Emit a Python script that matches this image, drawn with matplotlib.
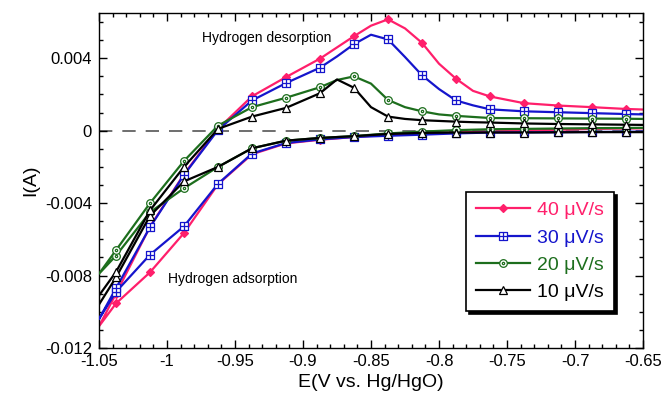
import numpy as np
import matplotlib.pyplot as plt
from matplotlib.path import Path
from matplotlib.ticker import MultipleLocator

plt.rcParams['font.family'] = ['Liberation Sans', 'DejaVu Sans']

# anodic sweep (upper branch), E in V
E_up = [-1.05, -1.0375, -1.0125, -0.9875, -0.9625, -0.9375, -0.9125, -0.8875, -0.875,
        -0.8625, -0.85, -0.8375, -0.825, -0.8125, -0.8, -0.7875, -0.775, -0.7625,
        -0.7375, -0.7125, -0.6875, -0.6625, -0.65]
I_up_40 = [-0.0108, -0.0090, -0.0053, -0.0024, 0.0001, 0.0019, 0.00296, 0.00398, 0.0046,
           0.00522, 0.0058, 0.00615, 0.00565, 0.00485, 0.0037, 0.00287, 0.0022, 0.00189,
           0.00152, 0.00139, 0.0013, 0.0012, 0.00117]
I_up_30 = [-0.0104, -0.0087, -0.00533, -0.00244, 0.00004, 0.00167, 0.00263, 0.00348, 0.0041,
           0.00478, 0.0053, 0.00504, 0.00407, 0.00306, 0.0023, 0.00167, 0.0014, 0.00118,
           0.00107, 0.00102, 0.00097, 0.00092, 0.0009]
I_up_20 = [-0.0079, -0.0066, -0.0040, -0.00167, 0.00028, 0.0013, 0.00182, 0.0024, 0.0028,
           0.0030, 0.0026, 0.0017, 0.0013, 0.00107, 0.0009, 0.00082, 0.00076, 0.0007,
           0.00069, 0.00068, 0.00067, 0.00066, 0.00065]
I_up_10 = [-0.0091, -0.0078, -0.0044, -0.0020, 0.0001, 0.00078, 0.00126, 0.00207, 0.00283,
           0.00237, 0.0013, 0.00078, 0.00065, 0.00058, 0.00054, 0.0005, 0.00047, 0.00045,
           0.0004, 0.00037, 0.00035, 0.00033, 0.00032]

# cathodic sweep (lower branch)
E_dn = [-1.05, -1.0375, -1.0125, -0.9875, -0.9625, -0.9375, -0.9125, -0.8875, -0.8625,
        -0.8375, -0.8125, -0.7875, -0.7625, -0.7375, -0.7125, -0.6875, -0.6625, -0.65]
I_dn_40 = [-0.0108, -0.00954, -0.00782, -0.00565, -0.00296, -0.0013, -0.0007, -0.0005,
           -0.00035, -0.00022, -0.00015, -0.0001, -0.00005, 0.0, 0.00005, 0.0001, 0.00012, 0.00013]
I_dn_30 = [-0.0104, -0.0089, -0.00685, -0.00528, -0.00293, -0.00126, -0.00068, -0.00048,
           -0.00035, -0.00028, -0.00022, -0.00015, -0.0001, -0.00009, -0.00008, -0.00007,
           -0.00006, -0.00005]
I_dn_20 = [-0.0079, -0.0069, -0.0045, -0.00318, -0.0020, -0.00097, -0.00055, -0.0004, -0.0003,
           -0.00015, -0.00005, 0.00003, 0.00008, 0.0001, 0.00012, 0.00014, 0.00015, 0.00016]
I_dn_10 = [-0.0096, -0.0081, -0.0047, -0.0028, -0.0020, -0.00097, -0.00055, -0.0004, -0.0003,
           -0.00018, -0.00012, -0.0001, -0.0001, -0.0001, -0.00009, -0.00008, -0.00008, -0.00008]

labels = ['40 μV/s', '30 μV/s', '20 μV/s', '10 μV/s']
colors = ['#ff1f6b', '#1515cc', '#1d6e1d', '#000000']

sq_plus = Path([(-1, -1), (1, -1), (1, 1), (-1, 1), (-1, -1), (0, -1), (0, 1), (-1, 0), (1, 0)],
               [Path.MOVETO, Path.LINETO, Path.LINETO, Path.LINETO, Path.CLOSEPOLY,
                Path.MOVETO, Path.LINETO, Path.MOVETO, Path.LINETO])
circ = Path.unit_circle()
circ_dot = Path.make_compound_path(circ, Path(circ.vertices * 0.3, circ.codes))
markers = ['D', sq_plus, circ_dot, '^']
msizes = [4, 6, 5.5, 5.5]
mfcs = [None, 'white', 'white', 'white']

fig = plt.figure(figsize=(6.66, 4.05), dpi=100)
ax = fig.add_axes([99 / 666, 57 / 405, 544 / 666, 335 / 405])

ax.axhline(0, color='#555555', lw=1.2, dashes=(8, 6), zorder=1)

ups = [I_up_40, I_up_30, I_up_20, I_up_10]
dns = [I_dn_40, I_dn_30, I_dn_20, I_dn_10]
for i in range(4):
    E = np.array(E_dn[::-1] + E_up)
    cur = np.array(dns[i][::-1] + ups[i])
    idx = [k for k, e in enumerate(E) if round(e * 10000) % 250 == 125]
    kw = dict(mfc=mfcs[i]) if mfcs[i] else {}
    ax.plot(E, cur, color=colors[i], lw=1.6, marker=markers[i], ms=msizes[i],
            mew=0.9, markevery=idx, label=labels[i], zorder=2 + i, **kw)

ax.set_xlim(-1.05, -0.65)
ax.set_ylim(-0.012, 0.0065)
ax.set_xticks([-1.05, -1.0, -0.95, -0.9, -0.85, -0.8, -0.75, -0.7, -0.65])
ax.set_xticklabels(['-1.05', '-1', '-0.95', '-0.9', '-0.85', '-0.8', '-0.75', '-0.7', '-0.65'])
ax.xaxis.set_minor_locator(MultipleLocator(0.01))
ax.set_yticks([-0.012, -0.008, -0.004, 0, 0.004])
ax.set_yticklabels(['-0.012', '-0.008', '-0.004', '0', '0.004'])
ax.yaxis.set_minor_locator(MultipleLocator(0.001))
ax.tick_params(which='both', direction='in', top=True, right=True, labelsize=12, width=1)
ax.tick_params(which='major', length=6)
ax.tick_params(which='minor', length=3)
ax.tick_params(axis='y', pad=5)
ax.tick_params(axis='x', pad=4)
for s in ax.spines.values():
    s.set_linewidth(1)

ax.set_xlabel('E(V vs. Hg/HgO)', fontsize=14, labelpad=4)
ax.set_ylabel('I(A)', fontsize=14, labelpad=4)

ax.text(-0.927, 0.0051, 'Hydrogen desorption', fontsize=10, ha='center', va='center')
ax.text(-0.9515, -0.0082, 'Hydrogen adsorption', fontsize=10, ha='center', va='center')

leg = ax.legend(loc='upper left', bbox_to_anchor=(0.675, 0.466), borderaxespad=0,
                fontsize=14, labelcolor='linecolor', fancybox=False, edgecolor='black',
                framealpha=1, handlelength=2.8, handletextpad=0.35, borderpad=0.5,
                labelspacing=0.5, shadow={'color': 'black', 'alpha': 1})
leg.get_frame().set_linewidth(1.2)

plt.savefig('out.png', dpi=100)
